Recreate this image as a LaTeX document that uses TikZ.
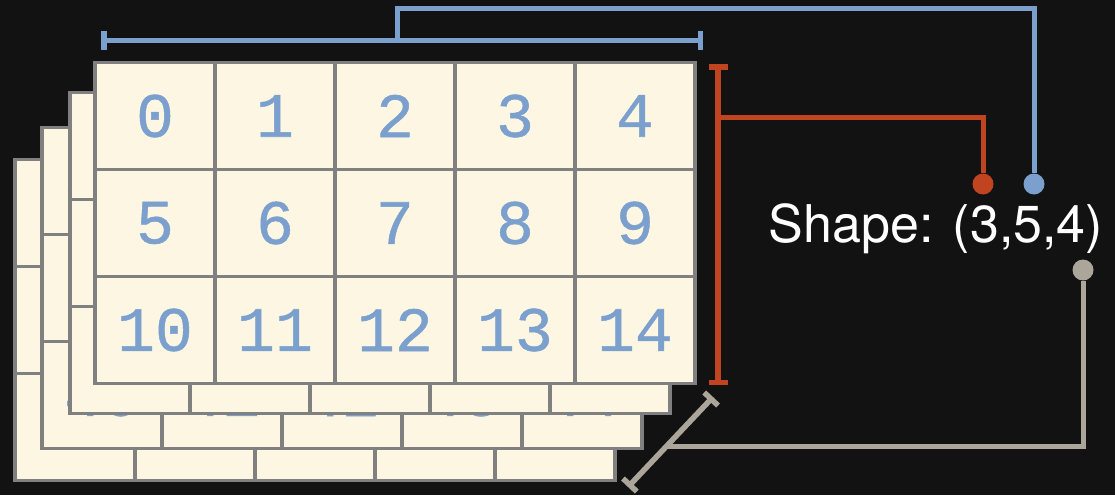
\documentclass[tikz,border=0pt]{standalone}
\usepackage{fontspec}
\setsansfont{TeX Gyre Heros}
\newfontfamily\digitfont{Liberation Mono}[FakeBold=0.8]
\usetikzlibrary{arrows.meta}
\definecolor{bgc}{HTML}{121212}
\definecolor{creamc}{HTML}{FDF6E3}
\definecolor{gridc}{HTML}{808080}
\definecolor{bluec}{HTML}{7BA0CD}
\definecolor{redc}{HTML}{C0441F}
\definecolor{greyc}{HTML}{ABA699}
\begin{document}
\begin{tikzpicture}[x=1pt, y=-1pt,
    cell/.style={draw=gridc, fill=creamc, line width=3.5pt, minimum width=120pt, minimum height=107pt, inner sep=0pt, text=bluec, font=\digitfont\fontsize{63}{66}\selectfont},
    dim/.style={line width=5.5pt, {Bar[width=19pt]}-{Bar[width=19pt]}},
    lead/.style={line width=5pt},
    dot/.style={circle, inner sep=0pt, minimum size=21pt}]
    \fill[bgc] (0,0) rectangle (1115,495);
    \useasboundingbox (0,0) rectangle (1115,495);
    \foreach \l/\dx/\dy in {3/-80/97, 2/-53/65, 1/-25/30, 0/0/0} {
        \foreach \r in {0,1,2} {
            \foreach \c in {0,...,4} {
                \pgfmathtruncatemacro{\n}{15*\l+5*\r+\c}
                \node[cell] (c\l-\r-\c) at ({155+120*\c+\dx},{116+107*\r+\dy}) {\raisebox{-1.5pt}{\n}};
            }
        }
    }
    \node[text=white, font=\sffamily\fontsize{52}{60}\selectfont, anchor=base] (shp) at (936,242) {Shape: (3,5,4)};
    \node[dot, fill=redc] (rdot) at (983,184) {};
    \node[dot, fill=bluec] (bdot) at (1034,184) {};
    \node[dot, fill=greyc] (gdot) at (1083,270) {};
    \coordinate (wl) at (101,40.5);
    \coordinate (wr) at (703,40.5);
    \coordinate (wm) at (397,40.5);
    \coordinate (wtop) at (397,9);
    \coordinate (ht) at (718,64);
    \coordinate (hb) at (718,385);
    \coordinate (hm) at (718,117.5);
    \coordinate (du) at (713,397);
    \coordinate (dl) at (628,487);
    \coordinate (dm) at (667,446);
    \draw[dim, bluec] (wl) -- (wr);
    \draw[lead, bluec] (wm) -- (wtop) -| (bdot);
    \draw[dim, redc] (ht) -- (hb);
    \draw[lead, redc] (hm) -| (rdot);
    \draw[dim, greyc] (dl) -- (du);
    \draw[lead, greyc] (dm) -| (gdot);
\end{tikzpicture}
\end{document}
